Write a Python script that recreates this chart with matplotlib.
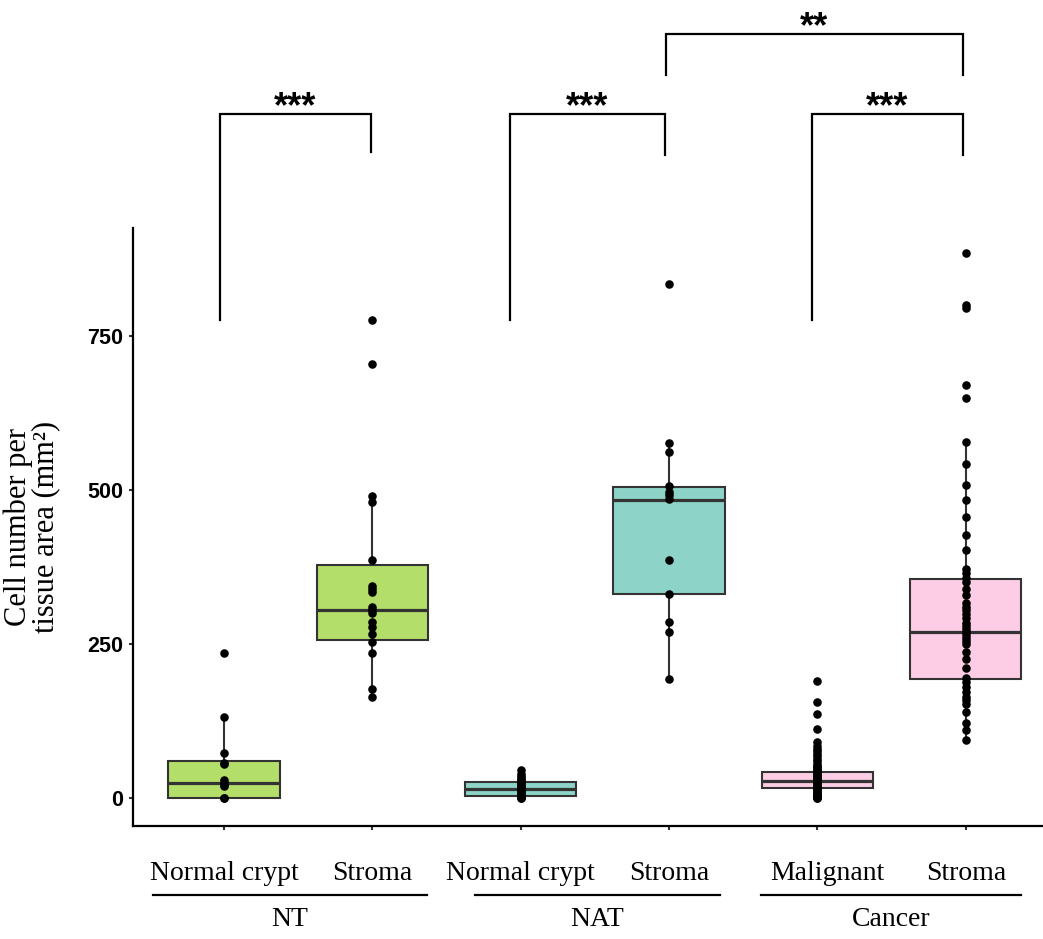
import matplotlib
matplotlib.use('Agg')
import matplotlib.pyplot as plt
import matplotlib.transforms as mtransforms
import numpy as np

# ---------------- data ----------------
categories = ['Normal crypt', 'Stroma', 'Normal crypt', 'Stroma', 'Malignant', 'Stroma']
groups = ['NT', 'NAT', 'Cancer']
box_colors = ['#B3DE69', '#B3DE69', '#8DD3C7', '#8DD3C7', '#FCCDE5', '#FCCDE5']

# box statistics
q1 = [0, 257, 3, 332, 16, 193]
med = [25.5, 305, 14.6, 483, 28, 270]
q3 = [60, 378, 26.5, 505, 43, 355]
whislo = [0, 164, 0, 193, 0, 91]
whishi = [132, 490, 44, 578, 82, 578]

# individual points
nt_crypt = [235, 132, 73, 58, 55, 30, 25, 22, 20, 0, 0]
nt_stroma = [775, 705, 490, 480, 386, 345, 340, 335, 310, 305, 300, 286, 278, 266, 254, 236, 177, 164]
nat_crypt = [0, 1, 2, 3, 4, 5, 7, 8, 10, 12, 14, 15, 16, 18, 20, 22, 24, 26, 28, 30, 33, 36, 40, 46]
nat_stroma = [834, 577, 561, 507, 497, 492, 486, 386, 331, 286, 270, 193]
malignant = [0, 1, 2, 3, 4, 5, 6, 8, 10, 12, 14, 15, 16, 17, 18, 19, 20, 21, 22, 23, 24, 25, 26, 27,
             28, 29, 30, 31, 32, 33, 34, 35, 36, 38, 40, 42, 44, 46, 48, 50, 53, 56, 60, 64, 68, 72,
             76, 80, 85, 91, 113, 136, 156, 190]
cancer_stroma = [884, 800, 795, 670, 649, 578, 542, 508, 484, 456, 427, 403, 372, 365, 358, 351, 340,
                 329, 317, 310, 305, 299, 292, 285, 280, 275, 270, 265, 260, 255, 250, 238, 226, 211,
                 195, 188, 180, 172, 165, 160, 153, 140, 122, 110, 94]
point_sets = [nt_crypt, nt_stroma, nat_crypt, nat_stroma, malignant, cancer_stroma]

yticks = [0, 250, 500, 750]

# significance brackets: left x, right x, top y, left leg bottom, right leg bottom, label
br_left = [-0.03, 1.93, 3.96, 2.98]
br_right = [0.99, 2.97, 4.98, 4.98]
br_top = [1110, 1110, 1110, 1240]
br_left_bottom = [776, 776, 776, 1173]
br_right_bottom = [1048, 1044, 1044, 1173]
br_labels = ['***', '***', '***', '**']

group_line_start = [-0.48, 1.69, 3.62]
group_line_end = [1.37, 3.34, 5.37]

# ---------------- figure ----------------
W, H = 1043, 939
fig = plt.figure(figsize=(W / 100, H / 100), dpi=100)
ax = fig.add_axes([133 / W, 1 - 826 / H, (W - 133) / W, (826 - 228) / H])

positions = list(range(len(categories)))
stats = []
for i in positions:
    stats.append(dict(med=med[i], q1=q1[i], q3=q3[i], whislo=whislo[i], whishi=whishi[i], fliers=[]))

edge = '#333333'
bp = ax.bxp(stats, positions=positions, widths=0.75, patch_artist=True, showfliers=False,
            showcaps=False,
            boxprops=dict(edgecolor=edge, linewidth=1.5),
            medianprops=dict(color=edge, linewidth=2.3),
            whiskerprops=dict(color=edge, linewidth=1.5))
for patch, c in zip(bp['boxes'], box_colors):
    patch.set_facecolor(c)

for i, pts in zip(positions, point_sets):
    ax.scatter(np.full(len(pts), i), pts, s=38, color='black', zorder=4, linewidths=0)

ax.set_xlim(-0.613, 5.52)
ax.set_ylim(-45, 925)

ax.spines['top'].set_visible(False)
ax.spines['right'].set_visible(False)
for s in ['left', 'bottom']:
    ax.spines[s].set_linewidth(1.6)
    ax.spines[s].set_color('black')

ax.set_yticks(yticks)
ax.set_yticklabels([str(v) for v in yticks], fontfamily='Liberation Sans', fontweight='bold',
                   fontsize=15.5)
ax.set_xticks(positions)
ax.set_xticklabels(categories, fontfamily='Liberation Serif', fontsize=20)
ax.tick_params(axis='both', length=3, width=1.5, color=edge)
ax.tick_params(axis='x', pad=22)
ax.tick_params(axis='y', pad=4)

# shift "Malignant" a little to the right as in the reference
mal_lbl = ax.get_xticklabels()[4]
mal_lbl.set_transform(mal_lbl.get_transform() +
                      mtransforms.ScaledTranslation(10 / 100, 0, fig.dpi_scale_trans))

fig.text(32 / W, 1 - 527 / H, 'Cell number per\ntissue area (mm\u00b2)', rotation=90,
         ha='center', va='center', fontfamily='Liberation Serif', fontsize=22, linespacing=0.92)

# group underlines + labels
trans = mtransforms.blended_transform_factory(ax.transData, fig.transFigure)
for g, xs, xe in zip(groups, group_line_start, group_line_end):
    ax.plot([xs, xe], [1 - 895 / H, 1 - 895 / H], transform=trans, color='black', lw=1.6,
            clip_on=False)
    ax.text((xs + xe) / 2, 1 - 920 / H, g, transform=trans, ha='center', va='center',
            fontfamily='Liberation Serif', fontsize=20)

# significance brackets
for xl, xr, yt, ylb, yrb, lab in zip(br_left, br_right, br_top, br_left_bottom, br_right_bottom,
                                     br_labels):
    ax.plot([xl, xl, xr, xr], [ylb, yt, yt, yrb], color='black', lw=1.6, clip_on=False,
            solid_joinstyle='miter')
    ax.text((xl + xr) / 2, yt - 6, lab, ha='center', va='baseline', fontsize=26,
            fontfamily='Liberation Sans', fontweight='bold', clip_on=False)

fig.savefig('out.png', dpi=100, facecolor='white')
